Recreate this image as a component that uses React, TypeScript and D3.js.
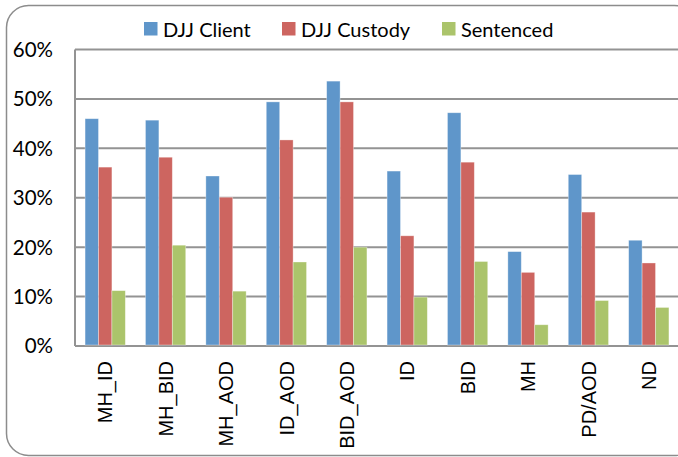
import React from 'react';
import { scaleBand, scaleLinear } from 'd3';

//canvas
const width = 678;
const height = 457;

//data
const categories = ['MH_ID', 'MH_BID', 'MH_AOD', 'ID_AOD', 'BID_AOD', 'ID', 'BID', 'MH', 'PD/AOD', 'ND'];
const seriesNames = ['DJJ Client', 'DJJ Custody', 'Sentenced'];
const djjClient = [0.46, 0.457, 0.344, 0.494, 0.536, 0.354, 0.472, 0.191, 0.347, 0.214];
const djjCustody = [0.362, 0.382, 0.301, 0.417, 0.494, 0.223, 0.372, 0.149, 0.271, 0.168];
const sentenced = [0.112, 0.204, 0.111, 0.17, 0.2, 0.099, 0.171, 0.043, 0.092, 0.078];
const yTicks = [0, 0.1, 0.2, 0.3, 0.4, 0.5, 0.6];

const seriesValues = [djjClient, djjCustody, sentenced];
const seriesColors = ['#5f96ca', '#cd6560', '#abc46b'];

//plot area
const plotLeft = 75;
const plotRight = 679;
const plotTop = 49.5;
const plotBottom = 346;

const gridColor = '#939393';
const frameColor = '#8c8c8c';
const labelFont = 'Lato, "Open Sans", sans-serif';
const categoryFont = '"Liberation Sans", Arial, sans-serif';

const x = scaleBand()
  .domain(categories)
  .range([plotLeft, plotRight])
  .paddingInner(1 / 3)
  .paddingOuter(1 / 6);

const xSeries = scaleBand()
  .domain(seriesNames)
  .range([0, x.bandwidth()]);

const y = scaleLinear().domain([0, 0.6]).range([plotBottom, plotTop]);

//legend
const legendItems = [
  { name: seriesNames[0], x: 144 },
  { name: seriesNames[1], x: 282 },
  { name: seriesNames[2], x: 442 },
];

const App = () => (
  <svg
    width={width}
    height={height}
    style={{ position: 'absolute', left: 0, top: 0, background: 'white' }}
  >
    {/* outer chart frame */}
    <rect
      x={6.5}
      y={5.5}
      width={690}
      height={450}
      rx={22}
      ry={22}
      fill="white"
      stroke={frameColor}
      strokeWidth={1.5}
    />

    {/* legend */}
    {legendItems.map((d, i) => (
      <g key={d.name} transform={`translate(${d.x},22)`}>
        <rect width={13.5} height={13.5} fill={seriesColors[i]} />
        <text x={19} y={14.5} fontFamily={labelFont} fontSize={20} fill="#000">
          {d.name}
        </text>
      </g>
    ))}

    {/* gridlines and y axis labels */}
    {yTicks.map((t) => (
      <g key={t}>
        <line
          x1={plotLeft}
          x2={plotRight}
          y1={y(t)}
          y2={y(t)}
          stroke={gridColor}
          strokeWidth={2}
        />
        <text
          x={53}
          y={y(t)}
          dy="0.36em"
          textAnchor="end"
          fontFamily={labelFont}
          fontSize={20.5}
          fill="#000"
        >
          {`${Math.round(t * 100)}%`}
        </text>
      </g>
    ))}
    <line
      x1={plotLeft}
      x2={plotLeft}
      y1={plotTop}
      y2={plotBottom}
      stroke={gridColor}
      strokeWidth={2}
    />

    {/* bars */}
    {categories.map((c, ci) => (
      <g key={c} transform={`translate(${x(c)},0)`}>
        {seriesNames.map((s, si) => (
          <rect
            key={s}
            x={xSeries(s)}
            y={y(seriesValues[si][ci])}
            width={xSeries.bandwidth()}
            height={plotBottom - 1 - y(seriesValues[si][ci])}
            fill={seriesColors[si]}
            stroke="rgba(255,255,255,0.45)"
            strokeWidth={0.75}
          />
        ))}
      </g>
    ))}

    {/* category labels */}
    {categories.map((c) => (
      <text
        key={c}
        transform={`translate(${x(c) + x.bandwidth() / 2},361) rotate(-90)`}
        dy="0.36em"
        textAnchor="end"
        fontFamily={categoryFont}
        fontSize={20}
        fill="#000"
      >
        {c}
      </text>
    ))}
  </svg>
);

export default App;
